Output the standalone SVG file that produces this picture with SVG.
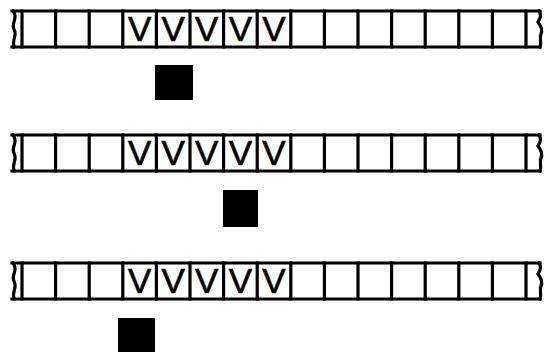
<svg xmlns="http://www.w3.org/2000/svg" width="546" height="352" viewBox="0 0 546 352">
<style>
.ln{stroke:#000;stroke-width:3.2;fill:none;stroke-linecap:square}
.v{font-family:"Liberation Sans",Arial,sans-serif;font-size:35px;fill:#000;stroke:#000;stroke-width:0.6;text-anchor:middle}
.sq{fill:#000}
</style>
<defs>
<g id="tape">
<path class="ln" d="M12,11 H540 M12,47 H540"/>
<path class="ln" d="M13,11 C16,15 15,18 14,22 C12,26 14,29 15,32 C16,37 12,40 14,47"/>
<path class="ln" d="M539,11 C542,15 540,19 538,22 C541,26 543,30 541,34 C539,38 542,42 540,47"/>
<path class="ln" d="M22,11V47 M55.6,11V47 M89.2,11V47 M122.8,11V47 M156.4,11V47 M190,11V47 M223.6,11V47 M257.2,11V47 M290.8,11V47 M324.4,11V47 M358,11V47 M391.6,11V47 M425.2,11V47 M458.8,11V47 M492.4,11V47 M526,11V47"/>
<text class="v" x="139.6" y="41">V</text>
<text class="v" x="173.2" y="41">V</text>
<text class="v" x="206.8" y="41">V</text>
<text class="v" x="240.4" y="41">V</text>
<text class="v" x="274" y="41">V</text>
</g>
</defs>
<g id="tape1"><use href="#tape"/></g>
<g id="head1"><rect class="sq" x="155" y="65" width="38" height="35"/></g>
<g id="tape2"><use href="#tape" transform="translate(0,124)"/></g>
<g id="head2"><rect class="sq" x="223" y="190" width="35" height="37"/></g>
<g id="tape3"><use href="#tape" transform="translate(0,252)"/></g>
<g id="head3"><rect class="sq" x="118" y="318" width="37" height="34"/></g>
<g id="connectors"></g>
</svg>
